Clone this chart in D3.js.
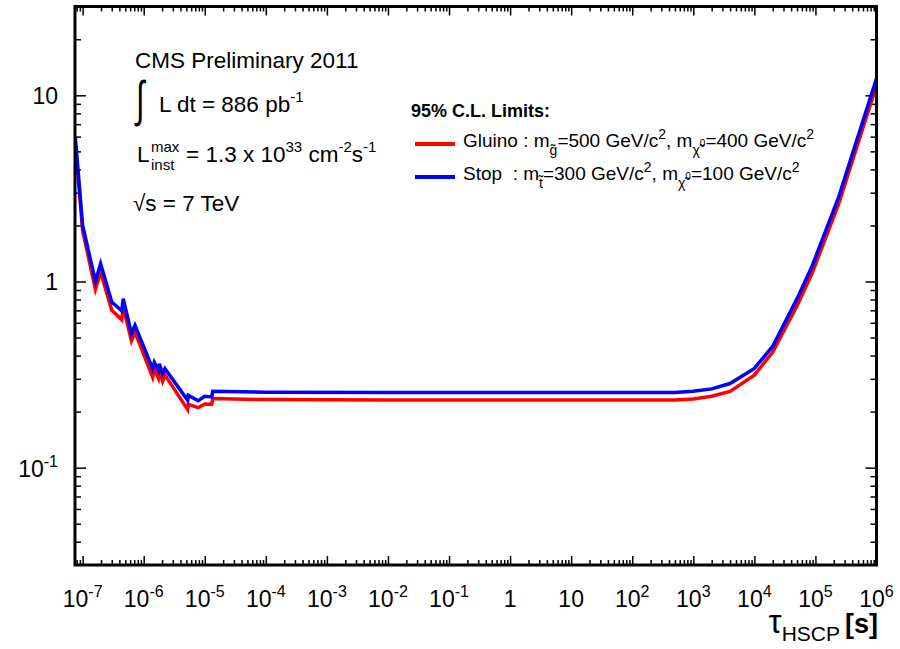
<!DOCTYPE html>
<html>
<head>
<meta charset="utf-8">
<script src="https://cdn.jsdelivr.net/npm/d3@7"></script>
<style>
  body { margin: 0; background: #fff; }
  svg { display: block; }
  text { font-family: "Liberation Sans", Arial, Helvetica, sans-serif; fill: #000; }
</style>
</head>
<body>
<svg id="chart" width="900" height="649"></svg>
<script>
// Lifetime points (seconds) and 95% C.L. cross-section limits for the two signal models
const tauValues = [7.6e-8, 1.0e-7, 1.62e-7, 1.97e-7, 3.0e-7, 4.37e-7, 4.62e-7, 6.3e-7, 7.2e-7,
  1.40e-6, 1.49e-6, 1.74e-6, 1.80e-6, 2.04e-6, 2.23e-6, 5.25e-6, 5.37e-6, 7.8e-6, 1.0e-5,
  1.30e-5, 1.35e-5, 1e-4, 1e-2, 1, 100, 500, 1000, 2000, 4000, 1e4, 2e4, 5e4, 8.7e4, 2.4e5, 1e6];
const gluinoLimit = [5.49, 1.872, 0.908, 1.12, 0.700, 0.623, 0.730, 0.480, 0.534,
  0.306, 0.340, 0.302, 0.329, 0.291, 0.314, 0.205, 0.219, 0.210, 0.220,
  0.219, 0.235, 0.232, 0.231, 0.231, 0.231, 0.231, 0.234, 0.242, 0.257, 0.314, 0.418, 0.742, 1.097, 2.607, 11.32];
const stopLimit = [5.93, 2.00, 1.003, 1.245, 0.776, 0.696, 0.808, 0.524, 0.582,
  0.340, 0.368, 0.334, 0.361, 0.320, 0.340, 0.230, 0.245, 0.229, 0.242,
  0.240, 0.257, 0.254, 0.253, 0.253, 0.253, 0.253, 0.257, 0.265, 0.283, 0.341, 0.449, 0.809, 1.196, 2.843, 12.29];

// Axis tick labels ("base^exponent")
const xTickLabels = ["10^-7", "10^-6", "10^-5", "10^-4", "10^-3", "10^-2", "10^-1", "1", "10",
  "10^2", "10^3", "10^4", "10^5", "10^6"];
const yTickLabels = ["10^-1", "1", "10"];

const xDomain = [7.5e-8, 1e6];
const yDomain = [0.03, 30];

const svg = d3.select("#chart");
const L = 75, R = 876.5, T = 6.5, B = 565;

const x = d3.scaleLog().domain(xDomain).range([L, R]);
const y = d3.scaleLog().domain(yDomain).range([B, T]);

function labelValue(s) {
  const p = s.split("^");
  return p.length > 1 ? Math.pow(10, +p[1]) : +p[0];
}
const xMajor = xTickLabels.map(labelValue);
const yMajor = yTickLabels.map(labelValue);

function minorTicks(domain) {
  const out = [];
  const lo = Math.floor(Math.log10(domain[0])), hi = Math.ceil(Math.log10(domain[1]));
  for (let e = lo; e <= hi; e++) {
    for (let m = 2; m <= 9; m++) {
      const v = m * Math.pow(10, e);
      if (v >= domain[0] * 1.0001 && v <= domain[1] * 0.9999) out.push(v);
    }
  }
  return out;
}
const xMinor = minorTicks(xDomain);
const yMinor = minorTicks(yDomain);

// Tick marks on all four sides, pointing inward
function drawTicks(axisFn, scale, values, size, transform) {
  const g = svg.append("g").attr("transform", transform)
    .call(axisFn(scale).tickValues(values).tickSizeInner(-size).tickSizeOuter(0).tickFormat(""));
  g.select(".domain").remove();
  g.selectAll(".tick line").attr("stroke", "#000").attr("stroke-width", 1.5);
  return g;
}
drawTicks(d3.axisBottom, x, xMajor, 9, `translate(0,${B})`);
drawTicks(d3.axisBottom, x, xMinor, 5, `translate(0,${B})`);
drawTicks(d3.axisTop, x, xMajor, 9, `translate(0,${T})`);
drawTicks(d3.axisTop, x, xMinor, 5, `translate(0,${T})`);
drawTicks(d3.axisLeft, y, yMajor, 11, `translate(${L},0)`);
drawTicks(d3.axisLeft, y, yMinor, 6, `translate(${L},0)`);
drawTicks(d3.axisRight, y, yMajor, 11, `translate(${R},0)`);
drawTicks(d3.axisRight, y, yMinor, 6, `translate(${R},0)`);

// Rich text helper: parts = [text, fontSize, raise(px, up positive), weight]
function rich(g, px, py, parts, anchor) {
  const t = g.append("text").attr("x", px).attr("y", py)
    .attr("text-anchor", anchor || "start").style("white-space", "pre");
  let cur = 0;
  parts.forEach(p => {
    const [s, fs, raise, w] = p;
    t.append("tspan").attr("dy", cur - (raise || 0)).attr("font-size", fs)
      .attr("font-weight", w || "normal").text(s);
    cur = raise || 0;
  });
  return t;
}

// Tick labels
const labels = svg.append("g");
xTickLabels.forEach((s, i) => {
  const p = s.split("^");
  const parts = [[p[0], 23, 0]];
  if (p.length > 1) parts.push([p[1], 16, 10]);
  rich(labels, x(xMajor[i]), 607, parts, "middle");
});
yTickLabels.forEach((s, i) => {
  const p = s.split("^");
  const parts = [[p[0], 23, 0]];
  if (p.length > 1) parts.push([p[1], 16, 10]);
  rich(labels, 58, y(yMajor[i]) + 9, parts, "end");
});

// Axis title
rich(svg, 878, 633, [["τ", 33, 0], ["HSCP", 21, -8], [" ", 18, 0], ["[s]", 27, 0, "bold"]], "end");

// Limit curves
svg.append("defs").append("clipPath").attr("id", "plotClip")
  .append("rect").attr("x", L).attr("y", T).attr("width", R - L).attr("height", B - T);

const series = [
  { name: "Gluino", values: gluinoLimit, color: "#ff0000" },
  { name: "Stop", values: stopLimit, color: "#0000ff" }
];
const line = d3.line().x(d => x(d[0])).y(d => y(d[1]));
const curves = svg.append("g").attr("clip-path", "url(#plotClip)");
series.forEach(s => {
  curves.append("path")
    .datum(tauValues.map((t, i) => [t, s.values[i]]))
    .attr("d", line)
    .attr("fill", "none")
    .attr("stroke", s.color)
    .attr("stroke-width", 3.5)
    .attr("stroke-linejoin", "miter")
    .attr("stroke-miterlimit", 4);
});

// Frame
svg.append("rect").attr("x", L).attr("y", T).attr("width", R - L).attr("height", B - T)
  .attr("fill", "none").attr("stroke", "#000").attr("stroke-width", 3);

// Experiment info
const info = svg.append("g");
rich(info, 135, 68, [["CMS Preliminary 2011", 22.5, 0]]);
info.append("text").attr("transform", "translate(136,116) scale(1,1.6)")
  .attr("font-family", "DejaVu Sans").attr("font-size", 31).text("∫");
rich(info, 159, 112, [["L dt = 886 pb", 22.5, 0], ["-1", 15, 10]]);
rich(info, 137, 162, [["L", 22.5, 0]]);
rich(info, 151, 152, [["max", 15, 0]]);
rich(info, 151, 170, [["inst", 15, 0]]);
rich(info, 186, 162, [["= 1.3 x 10", 22.5, 0], ["33", 15, 10], [" cm", 22.5, 0], ["-2", 15, 10], ["s", 22.5, 0], ["-1", 15, 10]]);
rich(info, 133, 211, [["√s = 7 TeV", 22.5, 0]]);

// Legend
const legend = svg.append("g");
rich(legend, 411, 117, [["95% C.L. Limits:", 18, 0, "bold"]]);
legend.append("line").attr("x1", 415).attr("x2", 455).attr("y1", 144).attr("y2", 144)
  .attr("stroke", series[0].color).attr("stroke-width", 4);
legend.append("line").attr("x1", 415).attr("x2", 455).attr("y1", 177).attr("y2", 177)
  .attr("stroke", series[1].color).attr("stroke-width", 4);
rich(legend, 463, 147, [["Gluino : m", 19, 0], ["g\u0303", 14, -8], ["=500 GeV/c", 19, 0], ["2", 14, 8],
  [", m", 19, 0], ["\u03c7\u0303", 14, -8], ["0", 10, 0], ["=400 GeV/c", 19, 0], ["2", 14, 8]]);
rich(legend, 463, 180, [["Stop  : m", 19, 0], ["t\u0303", 14, -8], ["=300 GeV/c", 19, 0], ["2", 14, 8],
  [", m", 19, 0], ["\u03c7\u0303", 14, -8], ["0", 10, 0], ["=100 GeV/c", 19, 0], ["2", 14, 8]]);
</script>
</body>
</html>
